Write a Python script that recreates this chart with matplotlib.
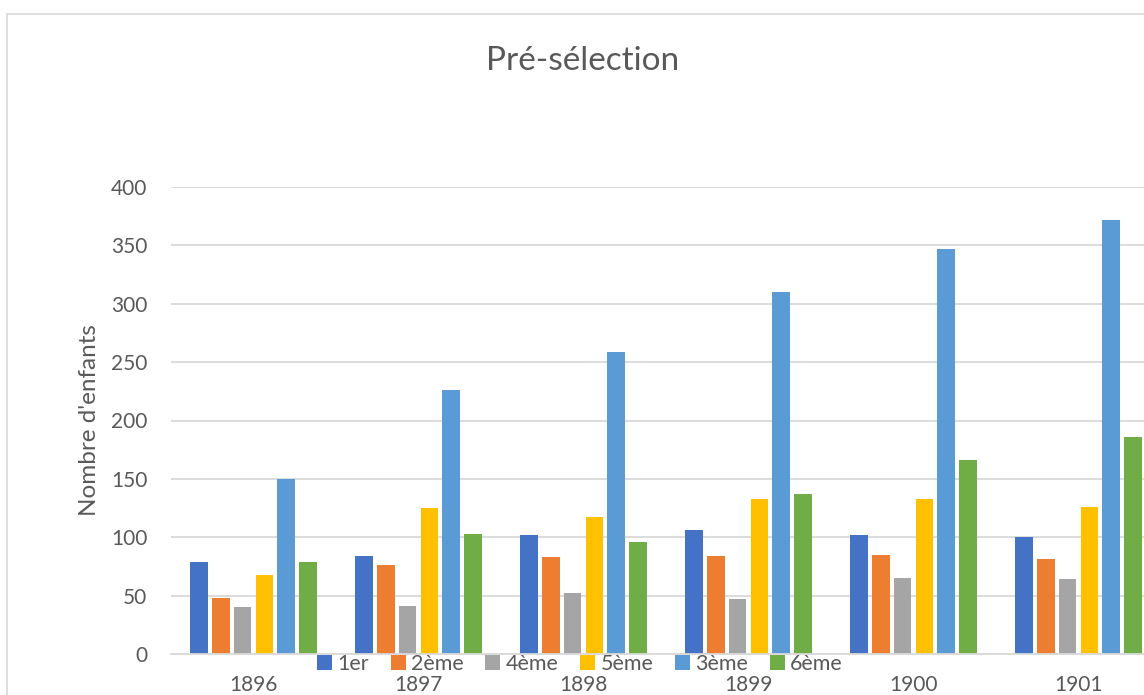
import numpy as np
import matplotlib
matplotlib.use('Agg')
import matplotlib.pyplot as plt
from matplotlib.patches import Rectangle, Patch

# données
years = ['1896', '1897', '1898', '1899', '1900', '1901']
series_names = ['1er', '2ème', '4ème', '5ème', '3ème', '6ème']
v_1er = [79, 84, 102, 106, 102, 100]
v_2eme = [48, 76, 83, 84, 85, 81]
v_4eme = [40, 41, 52, 47, 65, 64]
v_5eme = [68, 125, 117, 133, 133, 126]
v_3eme = [150, 226, 259, 310, 347, 372]
v_6eme = [79, 103, 96, 137, 166, 186]
yticks = [0, 50, 100, 150, 200, 250, 300, 350, 400]

colors = ['#4472C4', '#ED7D31', '#A5A5A5', '#FFC000', '#5B9BD5', '#70AD47']
text_color = '#595959'
grid_color = '#D9D9D9'

plt.rcParams['font.family'] = ['Lato', 'DejaVu Sans']

W, H = 1144, 695
fig = plt.figure(figsize=(W / 100, H / 100), dpi=100)

# cadre du graphique (coupé à droite et en bas)
fig.patches.append(Rectangle((7 / W, -0.1), 1.2, 1 - 14 / H + 0.1, transform=fig.transFigure,
                             fill=False, edgecolor=grid_color, linewidth=1.2))

ax = fig.add_axes([171 / W, 41 / H, 990 / W, 467 / H])

data = [v_1er, v_2eme, v_4eme, v_5eme, v_3eme, v_6eme]
x = np.arange(len(years))
pitch = 0.132
for i, vals in enumerate(data):
    offset = (i - 2.5) * pitch
    ax.bar(x + offset, vals, width=0.106, color=colors[i], zorder=3, label=series_names[i])

ax.set_xlim(-0.5, len(years) - 0.5)
ax.set_ylim(0, 400)
ax.set_yticks(yticks)
ax.set_xticks(x)
ax.set_xticklabels(years)
ax.yaxis.grid(True, color=grid_color, linewidth=1.3, zorder=0)
ax.set_axisbelow(True)
for s in ['top', 'right', 'left']:
    ax.spines[s].set_visible(False)
ax.spines['bottom'].set_color(grid_color)
ax.spines['bottom'].set_linewidth(1.3)
ax.spines['bottom'].set_zorder(4)
ax.tick_params(axis='y', length=0, pad=17, labelsize=15, labelcolor=text_color)
ax.tick_params(axis='x', length=0, pad=15, labelsize=15, labelcolor=text_color)

fig.text(89 / W, 1 - 420 / H, "Nombre d'enfants", rotation=90, ha='center', va='center',
         fontsize=17.5, color=text_color)
fig.text(583 / W, 1 - 61 / H, 'Pré-sélection', ha='center', va='center',
         fontsize=24, color=text_color)

handles = [Patch(facecolor=c) for c in colors]
leg = fig.legend(handles, series_names, loc='center', bbox_to_anchor=(580 / W, 1 - 664 / H),
                 ncol=6, frameon=False, fontsize=15.5, handlelength=0.7, handleheight=0.7,
                 handletextpad=0.25, columnspacing=1.0, borderpad=0, labelcolor=text_color)

fig.savefig('out.png', dpi=100)
